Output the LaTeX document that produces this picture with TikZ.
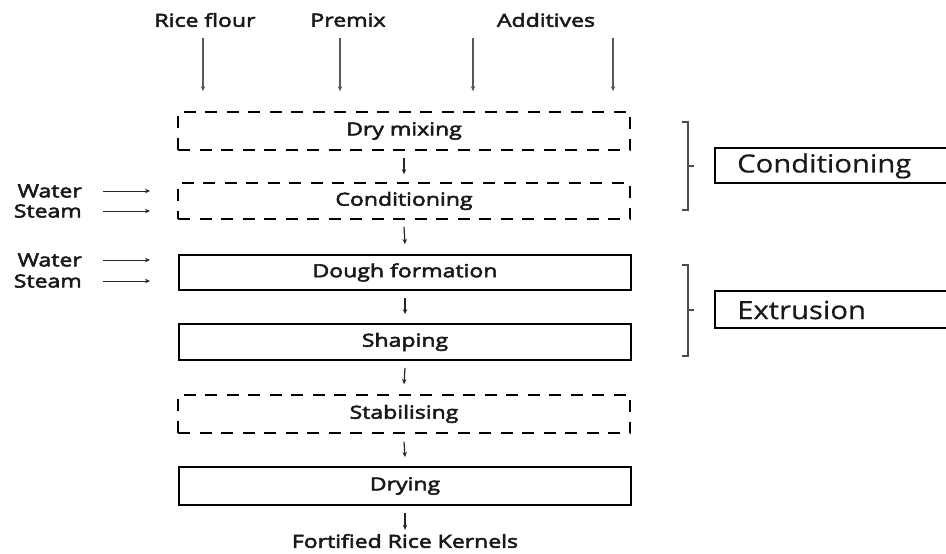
\documentclass[tikz,border=0pt]{standalone}
\usepackage{fontspec}
\setmainfont{Open Sans}
\newfontfamily\boxfont{Open Sans}[FakeStretch=1.28,FakeBold=3]
\newfontfamily\bigfont{Open Sans}[FakeStretch=1.17,FakeBold=0.6]
\usetikzlibrary{arrows.meta}
\begin{document}
\begin{tikzpicture}[x=1pt,y=-1pt,
  lbl/.style={font=\boxfont\fontsize{18}{20}\selectfont, text=black!90, inner sep=0pt},
  bigl/.style={font=\bigfont\fontsize{25}{27}\selectfont, text=black!90, inner sep=0pt},
  stepbox/.style={draw, line width=1.8pt, minimum width=452pt, minimum height=36pt, inner sep=0pt, font=\boxfont\fontsize{18}{20}\selectfont, text=black!90},
  dashbox/.style={stepbox, line width=1.6pt, dash pattern=on 12pt off 9.5pt},
  arr/.style={-{Stealth[length=5pt,width=4.5pt]}, line width=1.2pt, black!85},
  garr/.style={-{Stealth[length=5pt,width=4.5pt]}, line width=1.4pt, black!65},
  brk/.style={line width=1.4pt, black!70}
]
\useasboundingbox (0,0) rectangle (946,554);
% top inputs
\node[lbl] (rf) at (205,20) {Rice flour};
\node[lbl] (pm) at (348,20) {Premix};
\node[lbl] (ad) at (546,20) {Additives};
% process boxes
\node[dashbox, minimum height=38pt] (dry) at (404,131) {Dry mixing};
\node[dashbox] (cond) at (404,201) {Conditioning};
\node[stepbox, minimum height=35pt] (dough) at (405,272.5) {Dough formation};
\node[stepbox] (shape) at (405,342) {Shaping};
\node[dashbox, minimum height=38pt] (stab) at (404,414) {Stabilising};
\node[stepbox, minimum height=38pt] (dry2) at (405,486) {Drying};
\node[lbl] (frk) at (405,541) {Fortified Rice Kernels};
% top arrows
\coordinate (t1) at (203,38);
\coordinate (t2) at (340,38);
\coordinate (t3) at (473,38);
\coordinate (t4) at (613,38);
\foreach \t in {t1,t2,t3,t4}{
  \draw[garr] (\t) -- ([yshift=20pt]dry.north -| \t);
}
% vertical arrows between steps
\draw[arr] ([yshift=-7pt]dry.south) -- ([yshift=8pt]cond.north);
\draw[arr] ([yshift=-7pt]cond.south) -- ([yshift=10pt]dough.north);
\draw[arr] ([yshift=-7pt]dough.south) -- ([yshift=9pt]shape.north);
\draw[arr] ([yshift=-7pt]shape.south) -- ([yshift=10pt]stab.north);
\draw[arr] ([yshift=-8pt]stab.south) -- ([yshift=9pt]dry2.north);
\draw[arr] ([yshift=-7pt]dry2.south) -- ([yshift=4pt]frk.north);
% water / steam
\node[lbl, anchor=east] (w1) at (82,191) {Water};
\node[lbl, anchor=east] (s1) at (82,211) {Steam};
\node[lbl, anchor=east] (w2) at (82,260) {Water};
\node[lbl, anchor=east] (s2) at (82,281) {Steam};
\coordinate (w1e) at (150,191);
\coordinate (s1e) at (150,211);
\coordinate (w2e) at (150,260);
\coordinate (s2e) at (150,281);
\draw[arr, line width=1pt] ([xshift=21pt]w1.east) -- (w1e);
\draw[arr, line width=1pt] ([xshift=21pt]s1.east) -- (s1e);
\draw[arr, line width=1pt] ([xshift=21pt]w2.east) -- (w2e);
\draw[arr, line width=1pt] ([xshift=21pt]s2.east) -- (s2e);
% brackets
\coordinate (b1t) at (688,122);
\coordinate (b1b) at (688,210);
\coordinate (b1m) at (688,166);
\coordinate (b2t) at (688,265);
\coordinate (b2b) at (688,356);
\coordinate (b2m) at (688,310);
\draw[brk] ([xshift=-6pt]b1t) -- (b1t) -- (b1b) -- ([xshift=-6pt]b1b);
\draw[brk] (b1m) -- ([xshift=6pt]b1m);
\draw[brk] ([xshift=-6pt]b2t) -- (b2t) -- (b2b) -- ([xshift=-6pt]b2b);
\draw[brk] (b2m) -- ([xshift=6pt]b2m);
% right labels
\node[bigl, anchor=west] (cl) at (737,166) {Conditioning};
\node[bigl, anchor=west] (el) at (737,310) {Extrusion};
\draw[line width=1.4pt] (950,148) -- (715,148) -- (715,183) -- (950,183);
\draw[line width=1.4pt] (950,291) -- (715,291) -- (715,328) -- (950,328);
\end{tikzpicture}
\end{document}
